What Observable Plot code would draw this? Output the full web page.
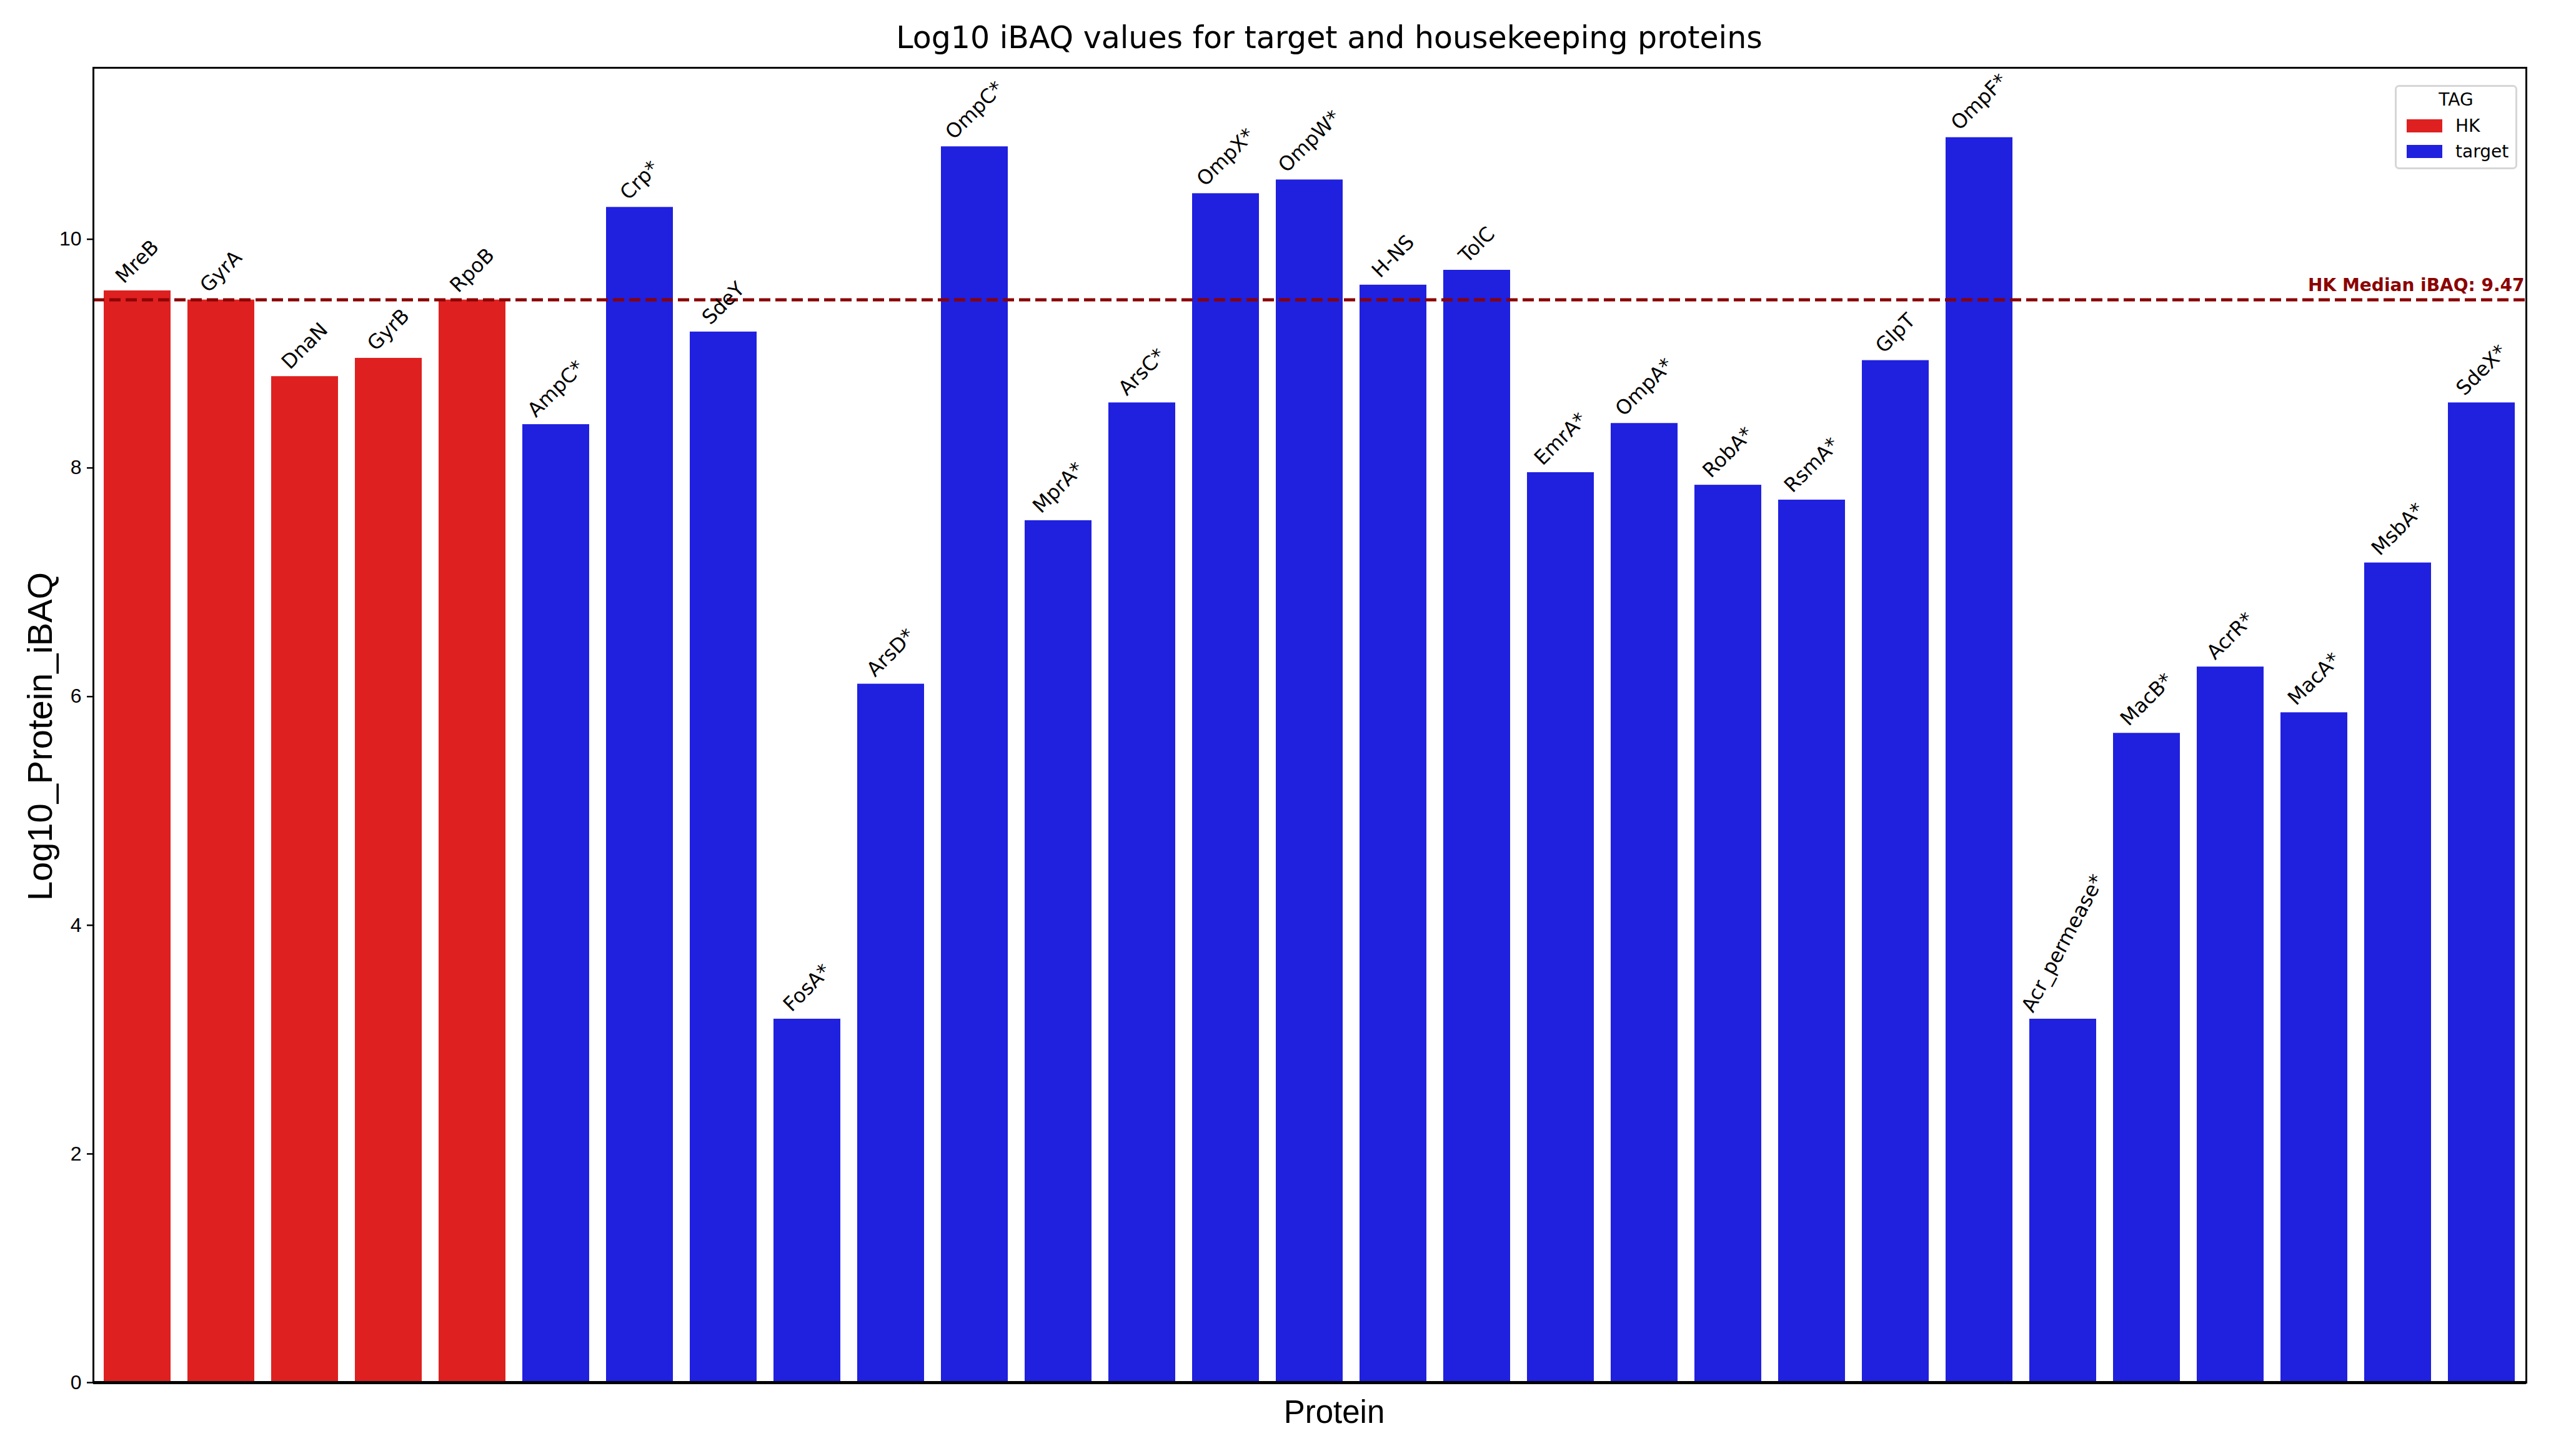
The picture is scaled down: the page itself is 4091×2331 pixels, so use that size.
<!DOCTYPE html>
<html>
<head>
<meta charset="utf-8">
<script src="https://cdn.jsdelivr.net/npm/d3@7"></script>
<script src="https://cdn.jsdelivr.net/npm/@observablehq/plot@0.6"></script>
<style>
  html, body { margin: 0; padding: 0; background: #fff; }
  #page { position: relative; width: 4091px; height: 2331px; overflow: hidden; background: #fff; }
  #title { position: absolute; left: 82px; top: 36px; width: 4091px; text-align: center;
           font: 49px "DejaVu Sans"; line-height: 1; color: #000; white-space: nowrap; }
  #chart { position: absolute; left: 0; top: 100px; }
  #legend { position: absolute; left: 3833px; top: 136px; width: 196px; height: 135px; box-sizing: border-box;
            border: 3px solid #d6d6d6; border-radius: 7px; background: rgba(255,255,255,0.8);
            font: 28px "DejaVu Sans"; line-height: 1; color: #000; }
  #legend .t { position: absolute; white-space: nowrap; }
  #legend .sw { position: absolute; width: 57px; height: 21px; }
</style>
</head>
<body>
<div id="page">
  <div id="title">Log10 iBAQ values for target and housekeeping proteins</div>
  <div id="chart"></div>
  <div id="legend"></div>
</div>
<script>
// ---- data ----
const proteins = ["MreB","GyrA","DnaN","GyrB","RpoB","AmpC*","Crp*","SdeY","FosA*","ArsD*",
                  "OmpC*","MprA*","ArsC*","OmpX*","OmpW*","H-NS","TolC","EmrA*","OmpA*","RobA*",
                  "RsmA*","GlpT","OmpF*","Acr_permease*","MacB*","AcrR*","MacA*","MsbA*","SdeX*"];
const tags = ["HK","HK","HK","HK","HK","target","target","target","target","target",
              "target","target","target","target","target","target","target","target","target","target",
              "target","target","target","target","target","target","target","target","target"];
const values = [9.55, 9.47, 8.80, 8.96, 9.47, 8.38, 10.28, 9.19, 3.18, 6.11,
                10.81, 7.54, 8.57, 10.40, 10.52, 9.60, 9.73, 7.96, 8.39, 7.85,
                7.72, 8.94, 10.89, 3.18, 5.68, 6.26, 5.86, 7.17, 8.57];
const tagDomain = ["HK", "target"];
const yTicks = [0, 2, 4, 6, 8, 10];
const legendTitle = "TAG";
const xLabel = "Protein";
const yLabel = "Log10_Protein_iBAQ";

// ---- build ----
const data = proteins.map((p, i) => ({protein: p, tag: tags[i], value: values[i]}));
const median = d3.median(data.filter(d => d.tag === "HK"), d => d.value);

const labelSize = 32;
const ctx = document.createElement("canvas").getContext("2d");
ctx.font = `${labelSize}px "DejaVu Sans"`;
const angleOf = d => d.protein.length > 10 ? 62 : 45;

const barLabels = data.map(d => {
  const a = angleOf(d) * Math.PI / 180;
  const w = ctx.measureText(d.protein).width;
  const h = labelSize * 1.0;
  const bh = w * Math.sin(a) + h * Math.cos(a);
  return Plot.text([d], {
    x: "protein", y: "value", text: "protein",
    rotate: -angleOf(d), textAnchor: "middle", lineAnchor: "middle",
    dy: -(6 + bh / 2), fontSize: labelSize, fontFamily: "DejaVu Sans", fill: "#000"
  });
});

const chart = Plot.plot({
  width: 4091, height: 2231,
  marginLeft: 149, marginRight: 48, marginTop: 8, marginBottom: 118,
  style: {background: "#fff", fontFamily: "Liberation Sans", color: "#000", overflow: "visible"},
  x: {type: "band", domain: proteins, paddingInner: 0.2, paddingOuter: 0.1, axis: null},
  y: {domain: [0, 11.5], axis: null},
  color: {domain: tagDomain, range: ["#df2020", "#2020df"]},
  marks: [
    Plot.barY(data, {x: "protein", y: "value", fill: "tag"}),
    Plot.ruleY([median], {y: d => d, stroke: "#8b0000", strokeWidth: 5, strokeDasharray: "18,8"}),
    Plot.text([median], {
      y: d => d, frameAnchor: "right", textAnchor: "end", lineAnchor: "bottom",
      dx: -3, dy: -14, text: d => `HK Median iBAQ: ${d.toFixed(2)}`,
      fontWeight: "bold", fontSize: 28, fontFamily: "DejaVu Sans", fill: "#8b0000"
    }),
    ...barLabels,
    Plot.axisY({ticks: yTicks, tickSize: 10, tickPadding: 9, tickFormat: d => String(d),
                fontSize: 32, fontFamily: "Liberation Sans", strokeWidth: 2.5, label: null}),
    Plot.frame({stroke: "#000", strokeWidth: 3}),
    Plot.ruleY([0], {stroke: "#000", strokeWidth: 5}),
    Plot.text([yLabel], {frameAnchor: "left", text: d => d, rotate: -90, dx: -84, dy: 18,
                         textAnchor: "middle", lineAnchor: "middle", fontSize: 56, fontFamily: "Liberation Sans", fill: "#000"}),
    Plot.text([xLabel], {frameAnchor: "bottom", text: d => d, dx: 39, dy: 64,
                         textAnchor: "middle", lineAnchor: "bottom", fontSize: 51, fontFamily: "Liberation Sans", fill: "#000"})
  ]
});
document.getElementById("chart").appendChild(chart);

// ---- legend from the color scale ----
const cs = chart.scale("color");
const lg = document.getElementById("legend");
const tt = document.createElement("div");
tt.className = "t"; tt.textContent = legendTitle;
tt.style.left = "0px"; tt.style.width = "190px"; tt.style.textAlign = "center"; tt.style.top = "7px";
lg.appendChild(tt);
cs.domain.forEach((k, i) => {
  const sw = document.createElement("div");
  sw.className = "sw"; sw.style.left = "16px"; sw.style.top = (52 + i * 41) + "px";
  sw.style.background = cs.range[i];
  lg.appendChild(sw);
  const lt = document.createElement("div");
  lt.className = "t"; lt.textContent = k;
  lt.style.left = "94px"; lt.style.top = (49 + i * 41) + "px";
  lg.appendChild(lt);
});
</script>
</body>
</html>
